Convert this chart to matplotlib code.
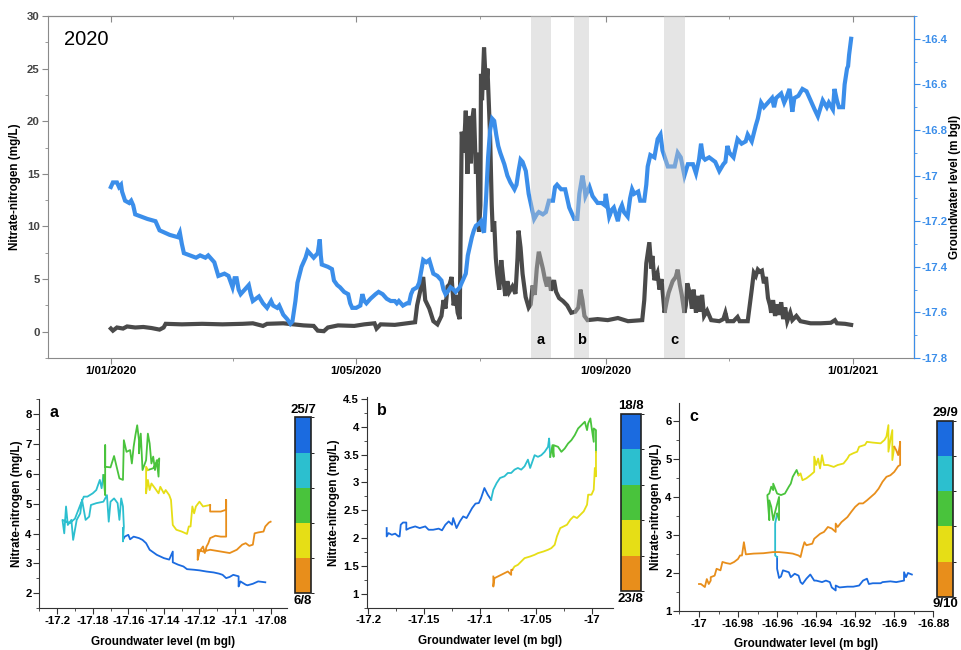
import numpy as np
import matplotlib
matplotlib.use("Agg")
import matplotlib.pyplot as plt
import matplotlib.dates as mdates
from matplotlib.colors import ListedColormap, BoundaryNorm
from matplotlib.cm import ScalarMappable
from matplotlib.ticker import MultipleLocator, FuncFormatter, FixedLocator

plt.rcParams['font.family'] = ['Liberation Sans', 'DejaVu Sans']
plt.rcParams['font.weight'] = 'bold'

# ---- 2020 time series: (day of year from 1 Jan 2020, value) ----
nitrate = [(0, 0.3), (1, 0.1), (3, 0.4), (6, 0.3), (8, 0.5), (12, 0.4), (16, 0.45), (20, 0.35),
           (24, 0.2), (26, 0.4), (27, 0.75), (35, 0.7), (45, 0.75), (55, 0.7), (65, 0.75), (70, 0.8),
           (75, 0.55), (77, 0.75), (85, 0.8), (90, 0.7), (95, 0.6), (100, 0.55), (102, 0.1), (105, 0.05),
           (107, 0.4), (112, 0.6), (120, 0.55), (125, 0.7), (130, 0.8), (131, 0.3), (133, 0.7), (140, 0.65),
           (146, 0.8), (150, 0.9), (151, 2.5), (153, 4.3), (154, 5.2), (155, 3.0), (157, 2.2), (159, 1.0),
           (161, 0.7), (163, 1.5), (164, 3.0), (165, 2.2), (166, 4.3), (167, 4.5), (168, 5.2), (169, 2.5),
           (170, 3.5), (171, 1.8), (172, 1.2), (172.5, 10), (173, 19), (174, 17), (175, 21), (175.8, 15),
           (176.5, 20.5), (177.5, 16), (178, 20), (179, 21.2), (180, 15), (180.8, 17), (181.5, 9.5),
           (182.2, 12), (182.5, 24.5), (183, 22), (184, 27), (185, 23), (185.7, 25), (186.3, 22),
           (187, 18.5), (187.8, 12), (188.3, 9.5), (189, 10.5), (189.8, 7), (190.5, 5.5), (191.5, 4),
           (192.5, 6.8), (193.5, 5), (194.5, 3.4), (195.5, 4.8), (196.5, 3.8), (198, 4.3), (199.5, 3.6),
           (200.5, 7), (201, 9.6), (202, 8), (203, 5.5), (204.5, 3.3), (206, 2.3), (207, 2.6), (208, 4.4),
           (209, 3.5), (210, 6), (211, 7.6), (212, 6.8), (213, 6), (214, 5), (215, 4.3), (216, 5.2),
           (217, 3.9), (218.5, 4.9), (219.5, 3.8), (221, 3.2), (223, 2.9), (225, 2.5), (227, 1.8),
           (229, 1.9), (230.5, 2.3), (231.5, 4.0), (232.5, 3.0), (233.5, 1.5), (235, 1.1), (240, 1.2),
           (245, 1.1), (250, 1.3), (255, 1.0), (262, 1.1), (263, 3), (264, 6.5), (265.5, 8.5), (266.5, 6),
           (267, 7.2), (268, 4.9), (269.5, 5.6), (270.5, 4), (271.5, 5), (273, 1.8), (274, 2.8), (275, 3.7),
           (277, 4.8), (278.5, 5.2), (279.5, 5.9), (280.5, 4.5), (281.5, 3.5), (282.8, 1.8), (283.5, 2.5),
           (284.2, 4.6), (285.5, 3.6), (286.5, 2.2), (287.3, 4.0), (288.5, 1.8), (289.5, 3.4), (290.5, 1.9),
           (291.5, 3.5), (292.5, 1.5), (294, 2.0), (296, 1.1), (300, 1.0), (302, 1.2), (303, 1.8), (304, 1.0),
           (307, 1.0), (309, 1.4), (310, 1.0), (314, 1.0), (315, 2.5), (316, 4.0), (317, 5.6), (318, 5.3),
           (319, 5.9), (320, 5.7), (321, 5.8), (322, 4.6), (323, 5.2), (324, 3.2), (325, 2.5), (325.6, 1.8),
           (326.5, 3.0), (327.5, 1.5), (328.5, 2.6), (329.5, 1.6), (330.5, 2.8), (331.5, 1.2), (332.5, 2.3),
           (333.5, 1.0), (335, 1.8), (336, 1.1), (338, 1.5), (340, 1.0), (345, 0.8), (350, 0.8), (355, 0.85),
           (357, 1.1), (358, 0.8), (362, 0.75), (365, 0.65)]

groundwater = [(0, -17.05), (1, -17.03), (3, -17.03), (4, -17.05), (5, -17.04), (5.5, -17.07), (7, -17.11),
               (9, -17.12), (10, -17.11), (11, -17.13), (12, -17.17), (18, -17.19), (22, -17.20), (24, -17.24),
               (29, -17.26), (33, -17.27), (34, -17.25), (35, -17.30), (36, -17.34), (42, -17.36), (44, -17.35),
               (46.6, -17.36), (48, -17.35), (51, -17.38), (53, -17.44), (56, -17.43), (58, -17.44), (60, -17.49),
               (61, -17.45), (62, -17.45), (63, -17.50), (64, -17.52), (66, -17.50), (68, -17.48), (69, -17.52),
               (70, -17.55), (73, -17.53), (75, -17.56), (77, -17.58), (79, -17.55), (80, -17.57), (82, -17.58),
               (83, -17.57), (85, -17.61), (87, -17.63), (88.5, -17.65), (89.5, -17.64), (90.5, -17.58),
               (91, -17.55), (92, -17.47), (94, -17.40), (96, -17.36), (97, -17.33), (99, -17.35), (100, -17.36),
               (102, -17.34), (103, -17.28), (103.5, -17.35), (104, -17.39), (107, -17.40), (109, -17.41),
               (110, -17.46), (111.6, -17.48), (113, -17.49), (115, -17.51), (117, -17.52), (118, -17.56),
               (119, -17.58), (121, -17.58), (123, -17.57), (124, -17.52), (125, -17.55), (126, -17.56),
               (128, -17.54), (130.5, -17.52), (132, -17.51), (134, -17.52), (136, -17.54), (138, -17.55),
               (140, -17.55), (141, -17.56), (142, -17.55), (144, -17.57), (146, -17.56), (147, -17.56),
               (148, -17.52), (149, -17.50), (151, -17.49), (152, -17.47), (153, -17.42), (154, -17.37),
               (155.5, -17.38), (157, -17.37), (158, -17.40), (159, -17.43), (161, -17.44), (163, -17.46),
               (164, -17.50), (165, -17.52), (166, -17.51), (167.5, -17.49), (169, -17.50), (170, -17.51),
               (172, -17.49), (173, -17.47), (175, -17.43), (176, -17.35), (177, -17.31), (178, -17.27),
               (179, -17.24), (180, -17.22), (181.5, -17.21), (182.5, -17.20), (183.5, -17.24), (184, -17.25),
               (185, -17.10), (186, -16.92), (187, -16.80), (188, -16.75), (189, -16.76), (190, -16.82),
               (191, -16.87), (192, -16.90), (194, -16.95), (195.5, -17.00), (197, -17.03), (199, -17.06),
               (200, -17.04), (201, -16.98), (202, -16.93), (203, -16.94), (204.6, -16.98), (206, -17.08),
               (207.5, -17.14), (208.7, -17.19), (210, -17.17), (211, -17.16), (213, -17.17), (214.5, -17.16),
               (216, -17.11), (218, -17.11), (219, -17.05), (220, -17.04), (222, -17.06), (224, -17.06),
               (226, -17.14), (228.5, -17.19), (230, -17.19), (231, -17.08), (232.5, -17.00), (233.5, -17.05),
               (234, -17.09), (236, -17.05), (237.5, -17.09), (240, -17.12), (242, -17.12), (243.5, -17.13),
               (244, -17.08), (245.7, -17.18), (247, -17.15), (248, -17.14), (250, -17.20), (251, -17.15),
               (252, -17.13), (253, -17.16), (254.8, -17.18), (256, -17.10), (257, -17.06), (258, -17.08),
               (260, -17.07), (261, -17.11), (263, -17.11), (264, -17.04), (264.7, -16.96), (266, -16.91),
               (268, -16.92), (269.6, -16.84), (271, -16.82), (272, -16.89), (274.6, -16.96), (278, -16.96),
               (279.5, -16.90), (281, -16.92), (282.8, -17.00), (284.5, -16.95), (287, -16.95), (288.5, -16.99),
               (290, -16.93), (291, -16.86), (292, -16.92), (293, -16.93), (295, -16.92), (298, -16.94),
               (300, -16.98), (302, -16.95), (303, -16.94), (304, -16.87), (305, -16.90), (307, -16.92),
               (309, -16.84), (311, -16.86), (313, -16.85), (314, -16.82), (316, -16.85), (318, -16.78),
               (319, -16.75), (320.6, -16.68), (322, -16.70), (324, -16.68), (326, -16.66), (327, -16.70),
               (328, -16.66), (330.5, -16.64), (332, -16.68), (333, -16.66), (334.6, -16.62), (336, -16.72),
               (337, -16.66), (339, -16.65), (341, -16.62), (343, -16.63), (344, -16.65), (345, -16.67),
               (347, -16.71), (348.6, -16.74), (350, -16.70), (351, -16.67), (353, -16.70), (354, -16.68),
               (356, -16.71), (356.8, -16.62), (358, -16.67), (359, -16.70), (361, -16.70), (361.8, -16.60),
               (363, -16.53), (363.5, -16.52), (364, -16.47), (365, -16.40)]

# highlighted events (shaded in the top panel)
event_labels = ['a', 'b', 'c']
event_start = ['2020-07-26 00:00', '2020-08-16 12:00', '2020-09-29 12:00']
event_end = ['2020-08-05 06:00', '2020-08-23 18:00', '2020-10-10 00:00']

date_ticks = ['2020-01-01', '2020-05-01', '2020-09-01', '2021-01-01']
date_labels = ['1/01/2020', '1/05/2020', '1/09/2020', '1/01/2021']
date_minor = ['2020-03-01', '2020-07-01', '2020-11-01']

# ---- event hysteresis loops: (groundwater level, nitrate) per colour step ----
a_blue = [(-17.083, 2.37), (-17.087, 2.40), (-17.090, 2.32), (-17.093, 2.27), (-17.094, 2.29), (-17.097, 2.40),
          (-17.098, 2.23), (-17.098, 2.57), (-17.101, 2.62), (-17.103, 2.55), (-17.105, 2.51), (-17.107, 2.62),
          (-17.109, 2.66), (-17.112, 2.70), (-17.116, 2.73), (-17.120, 2.77), (-17.123, 2.79), (-17.127, 2.81),
          (-17.129, 2.90), (-17.132, 2.96), (-17.135, 3.04), (-17.135, 3.40), (-17.137, 3.13), (-17.140, 3.18),
          (-17.144, 3.29), (-17.148, 3.46), (-17.150, 3.68), (-17.152, 3.79), (-17.154, 3.85), (-17.157, 3.90),
          (-17.159, 3.81), (-17.160, 3.96), (-17.162, 3.90), (-17.163, 3.79), (-17.163, 4.18)]
a_cyan = [(-17.163, 3.74), (-17.1625, 4.24), (-17.163, 4.91), (-17.164, 5.18), (-17.165, 4.46), (-17.166, 5.02),
          (-17.168, 5.18), (-17.170, 5.07), (-17.171, 4.40), (-17.172, 5.29), (-17.174, 5.07), (-17.178, 5.02),
          (-17.181, 4.96), (-17.182, 4.57), (-17.184, 4.46), (-17.186, 5.13), (-17.187, 4.68), (-17.189, 4.46),
          (-17.191, 3.79), (-17.192, 4.46), (-17.194, 4.29), (-17.195, 4.91), (-17.196, 4.01), (-17.197, 4.46),
          (-17.193, 4.35), (-17.190, 4.50), (-17.187, 4.96), (-17.185, 5.24), (-17.183, 5.24), (-17.180, 5.35),
          (-17.178, 5.46), (-17.176, 5.80), (-17.175, 5.52), (-17.174, 5.96)]
a_green = [(-17.173, 5.29), (-17.173, 6.96), (-17.173, 6.24), (-17.170, 6.22), (-17.168, 6.60), (-17.167, 6.35),
           (-17.165, 5.85), (-17.163, 5.80), (-17.1625, 7.13), (-17.161, 6.74), (-17.159, 6.80), (-17.158, 6.35),
           (-17.157, 6.91), (-17.156, 7.30), (-17.155, 7.63), (-17.154, 7.13), (-17.154, 6.69), (-17.153, 7.35),
           (-17.152, 6.13), (-17.150, 6.46), (-17.149, 7.35), (-17.148, 7.02), (-17.147, 6.35), (-17.146, 6.58),
           (-17.145, 6.13), (-17.144, 6.46), (-17.143, 5.91), (-17.1426, 6.52), (-17.146, 6.19), (-17.149, 6.13)]
a_yellow = [(-17.150, 6.24), (-17.150, 5.35), (-17.149, 5.80), (-17.148, 5.46), (-17.147, 5.68), (-17.145, 5.52),
            (-17.143, 5.35), (-17.142, 5.57), (-17.140, 5.35), (-17.139, 5.46), (-17.137, 5.29), (-17.136, 5.13),
            (-17.135, 4.29), (-17.133, 4.13), (-17.130, 4.07), (-17.127, 3.99), (-17.126, 4.24), (-17.125, 4.24),
            (-17.124, 4.91), (-17.123, 4.68), (-17.122, 4.91), (-17.120, 5.07), (-17.118, 4.91), (-17.114, 4.96)]
a_orange = [(-17.114, 4.74), (-17.108, 4.74), (-17.105, 4.80), (-17.105, 5.13), (-17.105, 3.90), (-17.108, 3.90),
            (-17.111, 3.93), (-17.114, 3.85), (-17.115, 3.68), (-17.116, 3.57), (-17.117, 3.35), (-17.118, 3.57),
            (-17.120, 3.40), (-17.121, 3.12), (-17.121, 3.46), (-17.118, 3.40), (-17.114, 3.46), (-17.108, 3.40),
            (-17.103, 3.35), (-17.099, 3.46), (-17.096, 3.63), (-17.094, 3.68), (-17.092, 3.59), (-17.090, 3.63),
            (-17.089, 4.01), (-17.087, 4.04), (-17.084, 4.07), (-17.083, 4.24), (-17.081, 4.37), (-17.080, 4.40)]

b_blue = [(-17.1836, 2.18), (-17.1836, 2.03), (-17.182, 2.09), (-17.179, 2.06), (-17.176, 2.08), (-17.173, 2.03),
          (-17.172, 2.03), (-17.171, 2.24), (-17.169, 2.28), (-17.166, 2.28), (-17.166, 2.15), (-17.163, 2.18),
          (-17.158, 2.21), (-17.154, 2.18), (-17.149, 2.21), (-17.146, 2.15), (-17.142, 2.15), (-17.137, 2.17),
          (-17.134, 2.14), (-17.131, 2.24), (-17.128, 2.30), (-17.125, 2.24), (-17.124, 2.36), (-17.121, 2.18),
          (-17.118, 2.30), (-17.115, 2.39), (-17.112, 2.36), (-17.107, 2.54), (-17.104, 2.62), (-17.101, 2.63),
          (-17.099, 2.72), (-17.096, 2.90), (-17.093, 2.78), (-17.090, 2.69)]
b_cyan = [(-17.088, 2.87), (-17.085, 2.99), (-17.082, 3.08), (-17.078, 3.11), (-17.075, 3.17), (-17.072, 3.17),
          (-17.069, 3.23), (-17.066, 3.26), (-17.063, 3.23), (-17.060, 3.29), (-17.057, 3.41), (-17.055, 3.26),
          (-17.051, 3.49), (-17.048, 3.46), (-17.045, 3.49), (-17.042, 3.55), (-17.039, 3.64), (-17.038, 3.79),
          (-17.037, 3.46)]
b_green = [(-17.035, 3.67), (-17.034, 3.46), (-17.034, 3.67), (-17.030, 3.64), (-17.027, 3.55), (-17.024, 3.61),
           (-17.021, 3.70), (-17.018, 3.76), (-17.015, 3.85), (-17.012, 3.97), (-17.009, 4.03), (-17.006, 4.09),
           (-17.004, 3.94), (-17.003, 4.06), (-17.001, 4.15), (-17.000, 4.00), (-16.998, 3.73), (-16.998, 3.97),
           (-16.996, 3.94), (-16.996, 3.55)]
b_yellow = [(-16.996, 3.11), (-16.997, 3.26), (-16.998, 2.87), (-17.000, 2.78), (-17.003, 2.78), (-17.004, 2.60),
            (-17.007, 2.48), (-17.010, 2.42), (-17.013, 2.36), (-17.016, 2.39), (-17.019, 2.33), (-17.022, 2.24),
            (-17.025, 2.21), (-17.028, 2.18), (-17.031, 2.03), (-17.033, 1.88), (-17.036, 1.82), (-17.039, 1.79),
            (-17.043, 1.76), (-17.048, 1.73), (-17.051, 1.70), (-17.055, 1.67), (-17.060, 1.64), (-17.063, 1.58),
            (-17.066, 1.52), (-17.069, 1.49), (-17.071, 1.43)]
b_orange = [(-17.072, 1.43), (-17.072, 1.34), (-17.075, 1.40), (-17.079, 1.36), (-17.084, 1.31), (-17.087, 1.28),
            (-17.088, 1.13), (-17.088, 1.31)]

c_blue = [(-16.891, 1.96), (-16.893, 2.00), (-16.894, 1.89), (-16.895, 2.02), (-16.895, 1.80), (-16.899, 1.76),
          (-16.902, 1.78), (-16.906, 1.76), (-16.907, 1.73), (-16.911, 1.73), (-16.913, 1.71), (-16.914, 1.85),
          (-16.916, 1.80), (-16.918, 1.67), (-16.921, 1.64), (-16.924, 1.64), (-16.928, 1.62), (-16.930, 1.67),
          (-16.930, 1.54), (-16.932, 1.62), (-16.933, 1.76), (-16.935, 1.80), (-16.937, 1.76), (-16.940, 1.80),
          (-16.941, 1.80), (-16.943, 1.96), (-16.945, 1.85), (-16.947, 1.71), (-16.948, 1.76), (-16.949, 1.93),
          (-16.951, 1.98), (-16.953, 1.89), (-16.954, 2.02), (-16.957, 2.07), (-16.958, 1.91), (-16.959, 1.87),
          (-16.960, 2.11), (-16.960, 2.42)]
c_cyan = [(-16.961, 2.46), (-16.961, 3.30), (-16.960, 3.56)]
c_green = [(-16.959, 3.39), (-16.959, 3.78), (-16.959, 4.00), (-16.961, 3.61), (-16.962, 3.39), (-16.963, 3.74),
           (-16.964, 3.91), (-16.964, 3.39), (-16.965, 4.05), (-16.964, 4.09), (-16.963, 4.27), (-16.962, 4.18),
           (-16.962, 4.35), (-16.960, 4.09), (-16.958, 4.05), (-16.956, 4.09), (-16.954, 4.27), (-16.953, 4.35),
           (-16.952, 4.53), (-16.950, 4.71), (-16.949, 4.57)]
c_yellow = [(-16.948, 4.62), (-16.947, 4.44), (-16.945, 4.49), (-16.943, 4.57), (-16.941, 4.66), (-16.941, 5.06),
            (-16.940, 4.84), (-16.939, 5.01), (-16.938, 4.75), (-16.937, 5.10), (-16.936, 4.84), (-16.934, 4.84),
            (-16.931, 4.79), (-16.929, 4.84), (-16.926, 4.88), (-16.924, 5.01), (-16.923, 5.10), (-16.921, 5.15),
            (-16.919, 5.19), (-16.918, 5.32), (-16.915, 5.37), (-16.914, 5.45), (-16.911, 5.43), (-16.907, 5.41),
            (-16.905, 5.50), (-16.904, 5.59), (-16.903, 5.89), (-16.903, 5.19), (-16.902, 5.50), (-16.901, 5.76),
            (-16.901, 4.97), (-16.900, 5.32)]
c_orange = [(-16.899, 5.23), (-16.898, 5.10), (-16.897, 5.41), (-16.897, 5.45), (-16.897, 4.84), (-16.898, 4.81),
            (-16.900, 4.66), (-16.902, 4.57), (-16.904, 4.53), (-16.906, 4.40), (-16.908, 4.22), (-16.910, 4.09),
            (-16.912, 4.00), (-16.914, 3.91), (-16.916, 3.83), (-16.918, 3.83), (-16.920, 3.74), (-16.922, 3.61),
            (-16.924, 3.47), (-16.927, 3.34), (-16.929, 3.21), (-16.930, 3.30), (-16.930, 3.08), (-16.932, 3.17),
            (-16.934, 3.21), (-16.936, 3.08), (-16.938, 3.03), (-16.941, 2.90), (-16.942, 2.77), (-16.945, 2.73),
            (-16.946, 2.81), (-16.947, 2.64), (-16.948, 2.42), (-16.949, 2.46), (-16.952, 2.51), (-16.955, 2.53),
            (-16.959, 2.55), (-16.962, 2.55), (-16.967, 2.52), (-16.972, 2.51), (-16.976, 2.49), (-16.977, 2.81),
            (-16.978, 2.46), (-16.979, 2.46), (-16.980, 2.37), (-16.982, 2.29), (-16.984, 2.24), (-16.986, 2.26),
            (-16.988, 2.29), (-16.989, 2.07), (-16.991, 2.11), (-16.992, 1.93), (-16.994, 1.89), (-16.994, 1.80),
            (-16.995, 1.71), (-16.996, 1.84), (-16.997, 1.63), (-16.999, 1.71), (-17.000, 1.71)]

event_dates = [('25/7', '6/8'), ('18/8', '23/8'), ('29/9', '9/10')]
step_colors = ['#1b6be0', '#2cbfcf', '#49c33c', '#e6de16', '#e88e1b']

NITRATE_COLOR = '#4a4a4a'
GW_COLOR = '#3b8eea'
SPINE = '#8a8a8a'

fig = plt.figure(figsize=(9.62, 6.5), dpi=100)

# ---------------- top panel: time series ----------------
ax = fig.add_axes([0.0499, 0.4492, 0.9002, 0.5262])
t0 = mdates.datestr2num('2020-01-01')
n_day, n_val = zip(*nitrate)
g_day, g_val = zip(*groundwater)
ax.plot(t0 + np.array(n_day), n_val, color=NITRATE_COLOR, lw=3.0, solid_joinstyle='miter')
ax.set_ylim(-2.5, 30)
ax.set_xlim(mdates.datestr2num('2019-12-01'), mdates.datestr2num('2021-01-31'))
ax.yaxis.set_major_locator(MultipleLocator(5))
ax.yaxis.set_minor_locator(MultipleLocator(2.5))
ax.set_xticks([mdates.datestr2num(d) for d in date_ticks])
ax.set_xticklabels(date_labels)
ax.xaxis.set_minor_locator(FixedLocator([mdates.datestr2num(d) for d in date_minor]))
ax.tick_params(axis='both', which='major', direction='out', length=4, color=SPINE, labelsize=8.2, pad=2)
ax.tick_params(axis='both', which='minor', direction='out', length=2.5, color=SPINE)
ax.tick_params(axis='y', labelcolor='#444444')
for s in ['left', 'top', 'bottom']:
    ax.spines[s].set_color(SPINE)
ax.set_ylabel('Nitrate-nitrogen (mg/L)', fontsize=8.4, fontweight='bold', labelpad=4)
ax.text(0.018, 0.93, '2020', transform=ax.transAxes, fontsize=14.5, fontweight='normal', va='center')

top = ax.secondary_xaxis('top')
top.set_xticks([mdates.datestr2num(d) for d in date_ticks])
top.xaxis.set_minor_locator(FixedLocator([mdates.datestr2num(d) for d in date_minor]))
top.tick_params(which='major', direction='in', length=4, color=SPINE, labeltop=False)
top.tick_params(which='minor', direction='in', length=2.5, color=SPINE)
top.spines['top'].set_color(SPINE)

ax2 = ax.twinx()
ax2.plot(t0 + np.array(g_day), g_val, color=GW_COLOR, lw=3.0, solid_joinstyle='miter')
ax2.set_ylim(-17.8, -16.3)
ax2.yaxis.set_major_locator(MultipleLocator(0.2))
ax2.yaxis.set_minor_locator(MultipleLocator(0.1))
ax2.yaxis.set_major_formatter(FuncFormatter(lambda v, p: '{:g}'.format(round(v, 2))))
ax2.tick_params(axis='y', which='major', direction='out', length=4, color=GW_COLOR,
                labelcolor=GW_COLOR, labelsize=8.2, pad=1.5)
ax2.tick_params(axis='y', which='minor', direction='out', length=2.5, color=GW_COLOR)
ax2.spines['right'].set_color(GW_COLOR)
for s in ['left', 'top', 'bottom']:
    ax2.spines[s].set_visible(False)
ax2.set_ylabel('Groundwater level (m bgl)', fontsize=8.4, fontweight='bold', labelpad=1)

for lab, d0, d1 in zip(event_labels, event_start, event_end):
    x0, x1 = mdates.datestr2num(d0), mdates.datestr2num(d1)
    ax2.axvspan(x0, x1, color='#c4c4c4', alpha=0.44, lw=0, zorder=5)
    ax2.text((x0 + x1) / 2, -17.72, lab, ha='center', va='center', fontsize=10.5,
             fontweight='bold', zorder=6)

# ---------------- bottom panels: event loops ----------------
panels = [
    ([0.0409, 0.0642, 0.2578, 0.3215], [0.3063, 0.0872, 0.0173, 0.2708],
     [a_blue, a_cyan, a_green, a_yellow, a_orange], 'a',
     (-17.21, -17.0706), (1.5, 8.5), 0.01, 0.5, np.arange(-17.2, -17.07, 0.02), np.arange(2, 8.5, 1)),
    ([0.3812, 0.0651, 0.2557, 0.3237], [0.6455, 0.0908, 0.0205, 0.2723],
     [b_blue, b_cyan, b_green, b_yellow, b_orange], 'b',
     (-17.2015, -16.981), (0.75, 4.53), 0.025, 0.25, np.arange(-17.2, -16.99, 0.05), np.arange(1, 4.6, 0.5)),
    ([0.7061, 0.0600, 0.2641, 0.3205], [0.9737, 0.0820, 0.0173, 0.2703],
     [c_blue, c_cyan, c_green, c_yellow, c_orange], 'c',
     (-17.0101, -16.88), (1, 6.48), 0.01, 0.5, np.arange(-17.0, -16.87, 0.02), np.arange(1, 6.5, 1)),
]

cmap = ListedColormap(step_colors[::-1])
norm = BoundaryNorm(np.arange(6), 5)
fmt = FuncFormatter(lambda v, p: '{:g}'.format(round(v, 3)))

for (rect, crect, steps, lab, xl, yl, xmin, ymin, xt, yt), (d_start, d_end) in zip(panels, event_dates):
    axp = fig.add_axes(rect)
    prev = None
    for pts, col in zip(steps, step_colors):
        seg = ([prev] if prev is not None else []) + pts
        gx, ny = zip(*seg)
        axp.plot(gx, ny, color=col, lw=1.3)
        prev = pts[-1]
    axp.set_xlim(*xl)
    axp.set_ylim(*yl)
    axp.set_xticks(xt)
    axp.set_yticks(yt)
    axp.xaxis.set_minor_locator(MultipleLocator(xmin))
    axp.yaxis.set_minor_locator(MultipleLocator(ymin))
    axp.xaxis.set_major_formatter(fmt)
    axp.yaxis.set_major_formatter(fmt)
    axp.tick_params(which='major', direction='out', length=4, color='#333333', labelsize=8.2, pad=1.5)
    axp.tick_params(which='minor', direction='out', length=2.5, color='#333333')
    for s in ['top', 'right']:
        axp.spines[s].set_visible(False)
    for s in ['left', 'bottom']:
        axp.spines[s].set_color('#333333')
    axp.set_xlabel('Groundwater level (m bgl)', fontsize=8.4, fontweight='bold', labelpad=7)
    axp.set_ylabel('Nitrate-nitrogen (mg/L)', fontsize=8.4, fontweight='bold', labelpad=2)
    axp.text(0.04, 0.935, lab, transform=axp.transAxes, fontsize=11.5, fontweight='bold', va='center')

    cax = fig.add_axes(crect)
    cb = fig.colorbar(ScalarMappable(norm=norm, cmap=cmap), cax=cax, ticks=[])
    cb.outline.set_edgecolor('#222222')
    cb.outline.set_linewidth(1.2)
    cax.text(0.5, 1.01, d_start, transform=cax.transAxes, ha='center', va='bottom',
             fontsize=9.5, fontweight='bold')
    cax.text(0.5, -0.01, d_end, transform=cax.transAxes, ha='center', va='top',
             fontsize=9.5, fontweight='bold')

fig.savefig('out.png', dpi=100)
